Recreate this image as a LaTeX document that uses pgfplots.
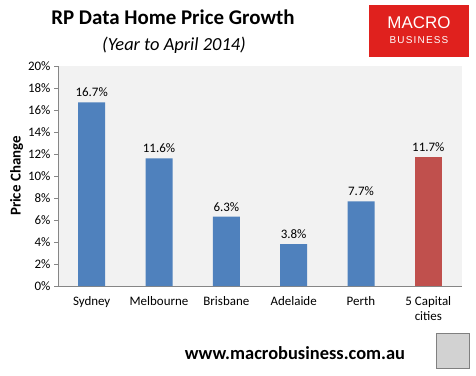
\documentclass[border=0pt]{standalone}
\usepackage{pgfplots}
\pgfplotsset{compat=1.18}
\usepackage{fontspec}
\setmainfont{Carlito}
\newfontfamily\logofont{Liberation Sans}
\newfontfamily\logofontsp[LetterSpace=12]{Liberation Sans}
\definecolor{barblue}{HTML}{4F81BD}
\definecolor{barred}{HTML}{C0504D}
\definecolor{bggray}{HTML}{F2F2F2}
\definecolor{axgray}{HTML}{868686}
\definecolor{logored}{HTML}{E0211E}
\begin{document}
\begin{tikzpicture}[x=1bp,y=1bp]
\useasboundingbox (0,0) rectangle (476,375);
\begin{axis}[
  at={(58bp,89bp)}, anchor=south west,
  width=404bp, height=220bp, scale only axis,
  ymin=0, ymax=20, ytick={0,2,...,20},
  yticklabel={\pgfmathprintnumber{\tick}\%},
  /pgf/number format/assume math mode=true,
  xmin=-0.5, xmax=5.5, xtick={0,...,5},
  xticklabels={Sydney,Melbourne,Brisbane,Adelaide,Perth,{5 Capital\\cities}},
  xticklabel style={align=center, yshift=-3bp},
  major x tick style={draw=none},
  extra x ticks={-0.5,0.5,1.5,2.5,3.5,4.5,5.5},
  extra x tick labels={},
  extra x tick style={major tick length=5bp, tick style={draw=axgray}},
  axis x line*=bottom, axis y line*=left,
  axis line style={draw=axgray, -},
  tick align=outside, major tick length=4bp,
  tick style={draw=axgray},
  axis background/.style={fill=bggray},
  ticklabel style={font=\fontsize{13}{15}\selectfont, text=black},
  ylabel={\textbf{Price Change}},
  ylabel style={font=\fontsize{15}{17}\selectfont, yshift=-2bp},
  ybar, bar width=27bp, bar shift=0pt,
  nodes near coords={\pgfmathprintnumber[fixed,fixed zerofill,precision=1]{\pgfplotspointmeta}\%},
  nodes near coords style={font=\fontsize{13}{15}\selectfont, text=black, yshift=2bp},
]
\addplot[fill=barblue, draw=none] coordinates {(0,16.7) (1,11.6) (2,6.3) (3,3.8) (4,7.7)};
\addplot[fill=barred, draw=none] coordinates {(5,11.7)};
\end{axis}
\node[font=\fontsize{21}{24}\selectfont\bfseries] at (173,358) {RP Data Home Price Growth};
\node[font=\fontsize{18.5}{22}\selectfont\itshape] at (174,330) {(Year to April 2014)};
\fill[logored] (369,318) rectangle (469,370);
\node[text=white, font=\logofont\fontsize{17}{19}\selectfont] at (419,352) {MACRO};
\node[text=white, font=\logofontsp\fontsize{10}{12}\selectfont] at (419,335) {BUSINESS};
\node[font=\fontsize{18.5}{22}\selectfont\bfseries] at (295,22) {www.macrobusiness.com.au};
\fill[gray!35, draw=gray, line width=1bp] (436,7) rectangle (469,42);
\end{tikzpicture}
\end{document}
